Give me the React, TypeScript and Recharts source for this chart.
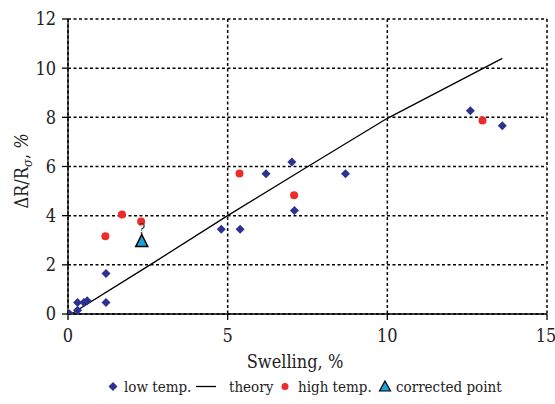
import React from 'react';
import { ComposedChart, Scatter, Line, XAxis, YAxis, CartesianGrid } from 'recharts';

const lowTemp = [
  { x: 0.05, y: 0.0 }, { x: 0.3, y: 0.15 }, { x: 0.3, y: 0.47 }, { x: 0.5, y: 0.47 },
  { x: 0.6, y: 0.54 }, { x: 1.19, y: 0.47 }, { x: 1.19, y: 1.65 }, { x: 4.8, y: 3.45 },
  { x: 5.39, y: 3.45 }, { x: 6.2, y: 5.71 }, { x: 7.01, y: 6.18 }, { x: 7.09, y: 4.21 },
  { x: 8.69, y: 5.71 }, { x: 12.6, y: 8.27 }, { x: 13.6, y: 7.66 },
];
const highTemp = [
  { x: 1.17, y: 3.16 }, { x: 1.69, y: 4.05 }, { x: 2.29, y: 3.76 },
  { x: 5.37, y: 5.72 }, { x: 7.08, y: 4.83 }, { x: 12.98, y: 7.87 },
];
const corrected = [{ x: 2.31, y: 2.95 }];
const theory = [
  { x: 0.1, y: 0 }, { x: 2.57, y: 2 }, { x: 5, y: 4.0 }, { x: 7.5, y: 5.99 },
  { x: 10, y: 7.96 }, { x: 13.6, y: 10.4 },
];
const xTicks = [0, 5, 10, 15];
const yTicks = [0, 2, 4, 6, 8, 10, 12];

const FONT = "'DejaVu Serif Condensed', 'DejaVu Serif', serif";
const TXT = { fontFamily: FONT, fontStretch: 'condensed' as const };
const BLUE = '#2E3192';
const RED = '#EE2A2A';
const CYAN = '#1AA3DA';

const Diamond = (p: any) => {
  const { cx, cy } = p;
  const r = 4.5;
  return <path d={`M${cx},${cy - r}L${cx + r},${cy}L${cx},${cy + r}L${cx - r},${cy}Z`} fill={BLUE} />;
};
const Dot = (p: any) => <circle cx={p.cx} cy={p.cy} r={4} fill={RED} />;
const Tri = (p: any) => {
  const { cx, cy } = p;
  return (
    <g>
      <path d={`M${cx},${cy - 7}L${cx + 6},${cy + 5}L${cx - 6},${cy + 5}Z`} fill={CYAN} stroke="#000" strokeWidth={1.5} />
      <text x={cx} y={cy - 7} textAnchor="middle" style={TXT} fontSize={14} fill="#333">?</text>
    </g>
  );
};

const LegendBlock = () => (
  <g style={TXT} fontSize={15} fill="#222">
    <path d="M113,382L117.5,386.5L113,391L108.5,386.5Z" fill={BLUE} />
    <text x={124} y={392}>low temp.</text>
    <line x1={196} y1={386.5} x2={216} y2={386.5} stroke="#000" strokeWidth={1.3} />
    <text x={229} y={392}>theory</text>
    <circle cx={285} cy={386.5} r={3.5} fill={RED} />
    <text x={298} y={392}>high temp.</text>
    <path d="M385,381L390.5,391L379.5,391Z" fill={CYAN} stroke="#000" strokeWidth={1.2} />
    <text x={396} y={392}>corrected point</text>
  </g>
);

const YLabel = () => (
  <text transform="translate(28,171) rotate(-90)" textAnchor="middle" style={TXT} fontSize={18} fill="#222">
    ΔR/R<tspan fontSize={13} dy={4} fontStyle="italic">σ</tspan><tspan dy={-4}>, </tspan><tspan fontStyle="italic">%</tspan>
  </text>
);

const XLabel = () => (
  <text x={295} y={368} textAnchor="middle" style={TXT} fontSize={18} fill="#222">Swelling, %</text>
);

export default function App() {
  return (
    <div style={{ position: 'absolute', left: 0, top: 0, background: '#fff', fontFamily: FONT }}>
      <ComposedChart width={555} height={404} margin={{ top: 19, right: 8, left: 28, bottom: 24 }} style={TXT}>
        <CartesianGrid stroke="#000" strokeDasharray="3 2.5" strokeWidth={1.5} />
        <XAxis
          type="number" dataKey="x" domain={[0, 15]} ticks={xTicks} allowDataOverflow
          axisLine={{ stroke: '#000', strokeWidth: 1.3 }} tickLine={{ stroke: '#000', strokeWidth: 1.3 }}
          tickSize={6} tickMargin={9} height={66}
          tick={{ ...TXT, fontSize: 18, fill: '#222' }}
        />
        <YAxis
          type="number" dataKey="y" domain={[0, 12]} ticks={yTicks} allowDataOverflow
          axisLine={{ stroke: '#000', strokeWidth: 1.3 }} tickLine={{ stroke: '#000', strokeWidth: 1.3 }}
          tickSize={6} tickMargin={6} width={40}
          tick={{ ...TXT, fontSize: 18, fill: '#222' }}
        />
        <Line data={theory} dataKey="y" type="linear" stroke="#000" strokeWidth={1.3} dot={false} isAnimationActive={false} name="theory" />
        <Scatter data={lowTemp} dataKey="y" shape={Diamond} isAnimationActive={false} name="low temp." />
        <Scatter data={highTemp} dataKey="y" shape={Dot} isAnimationActive={false} name="high temp." />
        <Scatter data={corrected} dataKey="y" shape={Tri} isAnimationActive={false} name="corrected point" />
        <YLabel />
        <XLabel />
        <LegendBlock />
      </ComposedChart>
    </div>
  );
}
